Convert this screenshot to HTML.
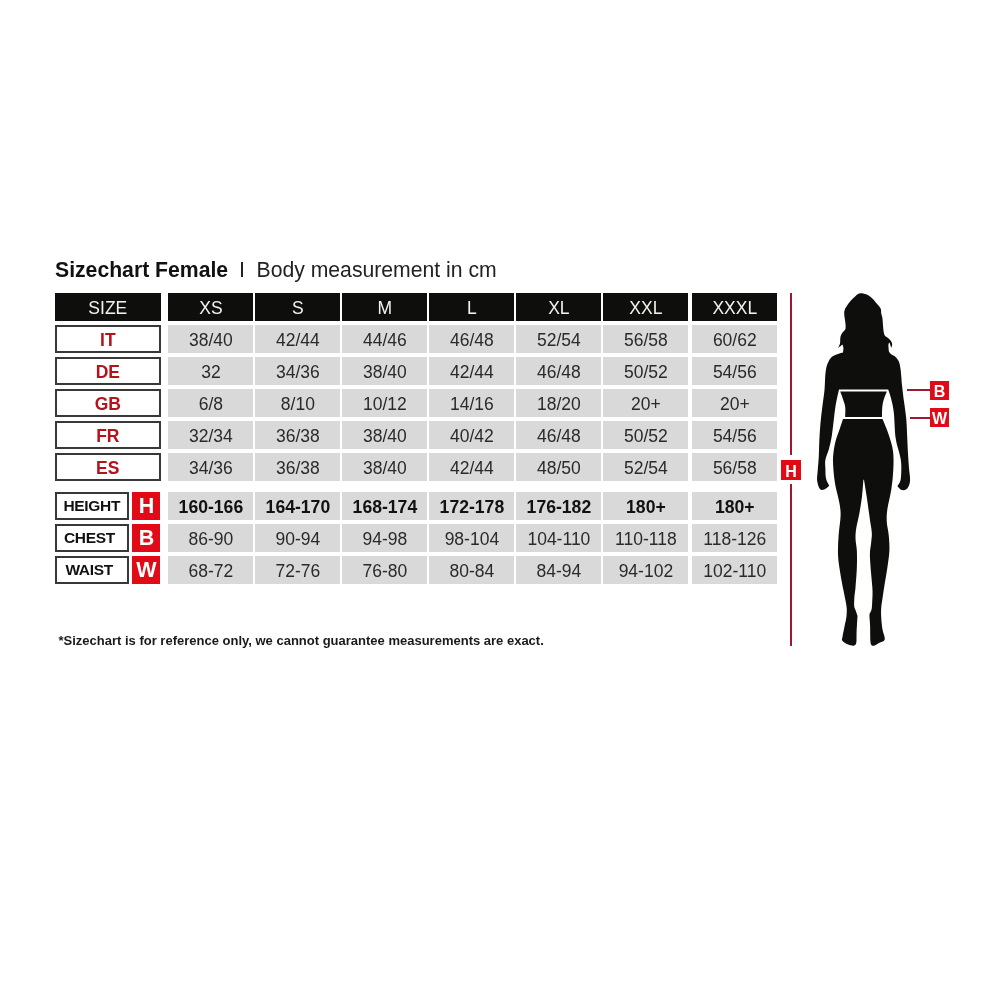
<!DOCTYPE html>
<html><head><meta charset="utf-8">
<style>
html,body{margin:0;padding:0;background:#fff;}
body{width:1000px;height:1000px;position:relative;overflow:hidden;font-family:"Liberation Sans",sans-serif;}
#w{position:absolute;left:0;top:0;width:1000px;height:1000px;will-change:transform;}
.a{position:absolute;box-sizing:border-box;}
.c{display:flex;align-items:center;justify-content:center;white-space:nowrap;}
.hd{background:#0e0e0c;color:#f2f2ee;font-size:17.5px;padding-top:2px;}
.g{background:#d9d9d9;color:#2a2a2a;font-size:17.5px;padding-top:3.5px;}
.lb{background:#fff;border:2px solid #383838;color:#b5121b;font-weight:bold;font-size:17.5px;padding-top:3px;}
.lb2{background:#fff;border:2px solid #383838;color:#111;font-weight:bold;font-size:15.5px;letter-spacing:-0.3px;justify-content:flex-start;}
.rb{background:#e10a16;color:#fff;font-weight:bold;}
.t{position:absolute;white-space:nowrap;line-height:1;}
</style></head><body><div id="w">

<div class="t" style="left:55px;top:259px;font-size:21.2px;font-weight:bold;color:#111;">Sizechart Female</div>
<div class="a" style="left:241px;top:262px;width:2px;height:15px;background:#222;"></div>
<div class="t" style="left:256.5px;top:259px;font-size:21.2px;color:#222;">Body measurement in cm</div>
<div class="a c hd" style="left:55px;top:293px;width:105.6px;height:28px;">SIZE</div>
<div class="a c hd" style="left:168.4px;top:293px;width:85px;height:28px;">XS</div>
<div class="a c hd" style="left:255.4px;top:293px;width:85px;height:28px;">S</div>
<div class="a c hd" style="left:342.4px;top:293px;width:85px;height:28px;">M</div>
<div class="a c hd" style="left:429.4px;top:293px;width:85px;height:28px;">L</div>
<div class="a c hd" style="left:516.4px;top:293px;width:85px;height:28px;">XL</div>
<div class="a c hd" style="left:603.4px;top:293px;width:85px;height:28px;">XXL</div>
<div class="a c hd" style="left:692.3px;top:293px;width:85px;height:28px;">XXXL</div>
<div class="a c lb" style="left:55px;top:324.5px;width:105.6px;height:28px;">IT</div>
<div class="a c g" style="left:168.4px;top:324.5px;width:85px;height:28px;">38/40</div>
<div class="a c g" style="left:255.4px;top:324.5px;width:85px;height:28px;">42/44</div>
<div class="a c g" style="left:342.4px;top:324.5px;width:85px;height:28px;">44/46</div>
<div class="a c g" style="left:429.4px;top:324.5px;width:85px;height:28px;">46/48</div>
<div class="a c g" style="left:516.4px;top:324.5px;width:85px;height:28px;">52/54</div>
<div class="a c g" style="left:603.4px;top:324.5px;width:85px;height:28px;">56/58</div>
<div class="a c g" style="left:692.3px;top:324.5px;width:85px;height:28px;">60/62</div>
<div class="a c lb" style="left:55px;top:356.5px;width:105.6px;height:28px;">DE</div>
<div class="a c g" style="left:168.4px;top:356.5px;width:85px;height:28px;">32</div>
<div class="a c g" style="left:255.4px;top:356.5px;width:85px;height:28px;">34/36</div>
<div class="a c g" style="left:342.4px;top:356.5px;width:85px;height:28px;">38/40</div>
<div class="a c g" style="left:429.4px;top:356.5px;width:85px;height:28px;">42/44</div>
<div class="a c g" style="left:516.4px;top:356.5px;width:85px;height:28px;">46/48</div>
<div class="a c g" style="left:603.4px;top:356.5px;width:85px;height:28px;">50/52</div>
<div class="a c g" style="left:692.3px;top:356.5px;width:85px;height:28px;">54/56</div>
<div class="a c lb" style="left:55px;top:388.5px;width:105.6px;height:28px;">GB</div>
<div class="a c g" style="left:168.4px;top:388.5px;width:85px;height:28px;">6/8</div>
<div class="a c g" style="left:255.4px;top:388.5px;width:85px;height:28px;">8/10</div>
<div class="a c g" style="left:342.4px;top:388.5px;width:85px;height:28px;">10/12</div>
<div class="a c g" style="left:429.4px;top:388.5px;width:85px;height:28px;">14/16</div>
<div class="a c g" style="left:516.4px;top:388.5px;width:85px;height:28px;">18/20</div>
<div class="a c g" style="left:603.4px;top:388.5px;width:85px;height:28px;">20+</div>
<div class="a c g" style="left:692.3px;top:388.5px;width:85px;height:28px;">20+</div>
<div class="a c lb" style="left:55px;top:420.5px;width:105.6px;height:28px;">FR</div>
<div class="a c g" style="left:168.4px;top:420.5px;width:85px;height:28px;">32/34</div>
<div class="a c g" style="left:255.4px;top:420.5px;width:85px;height:28px;">36/38</div>
<div class="a c g" style="left:342.4px;top:420.5px;width:85px;height:28px;">38/40</div>
<div class="a c g" style="left:429.4px;top:420.5px;width:85px;height:28px;">40/42</div>
<div class="a c g" style="left:516.4px;top:420.5px;width:85px;height:28px;">46/48</div>
<div class="a c g" style="left:603.4px;top:420.5px;width:85px;height:28px;">50/52</div>
<div class="a c g" style="left:692.3px;top:420.5px;width:85px;height:28px;">54/56</div>
<div class="a c lb" style="left:55px;top:452.5px;width:105.6px;height:28px;">ES</div>
<div class="a c g" style="left:168.4px;top:452.5px;width:85px;height:28px;">34/36</div>
<div class="a c g" style="left:255.4px;top:452.5px;width:85px;height:28px;">36/38</div>
<div class="a c g" style="left:342.4px;top:452.5px;width:85px;height:28px;">38/40</div>
<div class="a c g" style="left:429.4px;top:452.5px;width:85px;height:28px;">42/44</div>
<div class="a c g" style="left:516.4px;top:452.5px;width:85px;height:28px;">48/50</div>
<div class="a c g" style="left:603.4px;top:452.5px;width:85px;height:28px;">52/54</div>
<div class="a c g" style="left:692.3px;top:452.5px;width:85px;height:28px;">56/58</div>
<div class="a c lb2" style="left:55px;top:491.5px;width:73.7px;height:28px;padding-left:6.4px;">HEIGHT</div>
<div class="a c rb" style="left:132.4px;top:491.5px;width:28.1px;height:28px;font-size:21.5px;padding-top:1px;">H</div>
<div class="a c g" style="left:168.4px;top:491.5px;width:85px;height:28px;font-weight:bold;color:#111;font-size:17.6px;">160-166</div>
<div class="a c g" style="left:255.4px;top:491.5px;width:85px;height:28px;font-weight:bold;color:#111;font-size:17.6px;">164-170</div>
<div class="a c g" style="left:342.4px;top:491.5px;width:85px;height:28px;font-weight:bold;color:#111;font-size:17.6px;">168-174</div>
<div class="a c g" style="left:429.4px;top:491.5px;width:85px;height:28px;font-weight:bold;color:#111;font-size:17.6px;">172-178</div>
<div class="a c g" style="left:516.4px;top:491.5px;width:85px;height:28px;font-weight:bold;color:#111;font-size:17.6px;">176-182</div>
<div class="a c g" style="left:603.4px;top:491.5px;width:85px;height:28px;font-weight:bold;color:#111;font-size:17.6px;">180+</div>
<div class="a c g" style="left:692.3px;top:491.5px;width:85px;height:28px;font-weight:bold;color:#111;font-size:17.6px;">180+</div>
<div class="a c lb2" style="left:55px;top:523.5px;width:73.7px;height:28px;padding-left:6.9px;">CHEST</div>
<div class="a c rb" style="left:132.4px;top:523.5px;width:28.1px;height:28px;font-size:21.5px;padding-top:1px;">B</div>
<div class="a c g" style="left:168.4px;top:523.5px;width:85px;height:28px;">86-90</div>
<div class="a c g" style="left:255.4px;top:523.5px;width:85px;height:28px;">90-94</div>
<div class="a c g" style="left:342.4px;top:523.5px;width:85px;height:28px;">94-98</div>
<div class="a c g" style="left:429.4px;top:523.5px;width:85px;height:28px;">98-104</div>
<div class="a c g" style="left:516.4px;top:523.5px;width:85px;height:28px;">104-110</div>
<div class="a c g" style="left:603.4px;top:523.5px;width:85px;height:28px;">110-118</div>
<div class="a c g" style="left:692.3px;top:523.5px;width:85px;height:28px;">118-126</div>
<div class="a c lb2" style="left:55px;top:555.5px;width:73.7px;height:28px;padding-left:8.4px;">WAIST</div>
<div class="a c rb" style="left:132.4px;top:555.5px;width:28.1px;height:28px;font-size:21.5px;padding-top:1px;">W</div>
<div class="a c g" style="left:168.4px;top:555.5px;width:85px;height:28px;">68-72</div>
<div class="a c g" style="left:255.4px;top:555.5px;width:85px;height:28px;">72-76</div>
<div class="a c g" style="left:342.4px;top:555.5px;width:85px;height:28px;">76-80</div>
<div class="a c g" style="left:429.4px;top:555.5px;width:85px;height:28px;">80-84</div>
<div class="a c g" style="left:516.4px;top:555.5px;width:85px;height:28px;">84-94</div>
<div class="a c g" style="left:603.4px;top:555.5px;width:85px;height:28px;">94-102</div>
<div class="a c g" style="left:692.3px;top:555.5px;width:85px;height:28px;">102-110</div>
<div class="t" style="left:58.5px;top:634px;font-size:13px;font-weight:bold;color:#1a1a1a;">*Sizechart is for reference only, we cannot guarantee measurements are exact.</div>
<div class="a" style="left:790px;top:293px;width:2px;height:162px;background:#9a1b2f;"></div>
<div class="a" style="left:790px;top:484px;width:2px;height:162px;background:#9a1b2f;"></div>
<div class="a c rb" style="left:781px;top:460px;width:20px;height:20px;font-size:16px;padding-top:3px;">H</div>
<div class="a" style="left:907px;top:389px;width:23px;height:2px;background:#9a1b2f;"></div>
<div class="a c rb" style="left:930px;top:380.7px;width:19px;height:19px;font-size:16px;padding-top:3px;">B</div>
<div class="a" style="left:910px;top:417px;width:20px;height:2px;background:#9a1b2f;"></div>
<div class="a c rb" style="left:930px;top:408.3px;width:19px;height:19px;font-size:16px;padding-top:3px;">W</div>
<svg class="a" style="left:0;top:0" width="1000" height="1000" viewBox="0 0 1000 1000">
<path fill="#0e0e0c" d="M857.20,294.50 C857.73,294.28 858.90,293.23 860.40,293.20 C861.90,293.17 864.43,293.62 866.20,294.30 C867.97,294.98 869.40,295.95 871.00,297.30 C872.60,298.65 874.20,300.55 875.80,302.40 C877.40,304.25 879.70,306.60 880.60,308.40 C881.50,310.20 880.90,311.60 881.20,313.20 C881.50,314.80 882.10,316.00 882.40,318.00 C882.70,320.00 882.80,323.00 883.00,325.20 C883.20,327.40 883.30,329.50 883.60,331.20 C883.90,332.90 884.10,334.30 884.80,335.40 C885.50,336.50 886.80,336.90 887.80,337.80 C888.80,338.70 890.07,339.68 890.80,340.80 C891.53,341.92 892.15,343.30 892.20,344.50 C892.25,345.70 891.28,347.42 891.10,348.00 C890.95,347.43 890.50,345.50 890.20,344.60 C889.90,343.70 889.45,342.93 889.30,342.60 C889.15,343.00 888.47,343.50 888.40,345.00 C888.33,346.50 888.82,350.50 888.90,351.60 C889.27,352.05 889.98,353.40 891.10,354.30 C892.22,355.20 894.25,355.65 895.60,357.00 C896.95,358.35 898.37,360.30 899.20,362.40 C900.03,364.50 900.23,367.00 900.60,369.60 C900.97,372.20 901.17,375.43 901.40,378.00 C901.63,380.57 901.57,381.08 902.00,385.00 C902.43,388.92 903.30,396.00 904.00,401.50 C904.70,407.00 905.68,412.50 906.20,418.00 C906.72,423.50 906.83,429.00 907.10,434.50 C907.38,440.00 907.54,445.50 907.85,451.00 C908.16,456.50 908.58,462.55 908.95,467.50 C909.32,472.45 910.32,477.22 910.05,480.70 C909.77,484.18 908.67,486.85 907.30,488.40 C905.92,489.95 903.45,490.37 901.80,490.00 C900.15,489.63 898.13,486.83 897.40,486.20 C897.95,485.10 900.06,483.27 900.70,479.60 C901.34,475.93 901.43,468.42 901.25,464.20 C901.07,459.98 900.54,458.70 899.60,454.30 C898.66,449.90 896.57,444.77 895.60,437.80 C894.63,430.83 894.57,419.10 893.80,412.50 C893.03,405.90 891.93,402.05 891.00,398.20 C890.07,394.35 888.67,390.87 888.20,389.40 L839.00,389.40 C838.40,392.33 836.57,399.48 835.40,407.00 C834.23,414.52 833.07,427.53 832.00,434.50 C830.93,441.47 830.10,444.58 829.00,448.80 C827.90,453.02 826.00,456.50 825.40,459.80 C824.80,463.10 825.30,465.48 825.40,468.60 C825.50,471.72 825.36,475.65 826.00,478.50 C826.64,481.35 828.71,484.50 829.25,485.70 C828.42,486.33 825.86,488.95 824.30,489.50 C822.74,490.05 821.09,490.47 819.90,489.00 C818.71,487.53 817.52,483.73 817.15,480.70 C816.78,477.67 817.43,474.83 817.70,470.80 C817.98,466.77 818.52,461.63 818.80,456.50 C819.07,451.37 819.08,445.50 819.35,440.00 C819.62,434.50 819.96,429.00 820.45,423.50 C820.94,418.00 821.62,412.58 822.30,407.00 C822.97,401.42 824.02,395.03 824.50,390.00 C824.98,384.97 824.90,380.50 825.20,376.80 C825.50,373.10 825.82,370.20 826.30,367.80 C826.78,365.40 827.20,364.20 828.10,362.40 C829.00,360.60 830.05,358.42 831.70,357.00 C833.35,355.58 836.12,354.65 838.00,353.90 C839.88,353.15 842.17,352.73 843.00,352.50 C843.07,351.75 843.48,349.35 843.40,348.00 C843.32,346.65 842.65,345.00 842.50,344.40 L838.00,348.00 C838.33,347.25 839.60,345.30 840.00,343.50 C840.40,341.70 840.03,338.95 840.40,337.20 C840.77,335.45 841.35,334.40 842.20,333.00 C843.05,331.60 845.00,330.70 845.50,328.80 C846.00,326.90 845.40,323.90 845.20,321.60 C845.00,319.30 844.40,316.90 844.30,315.00 C844.20,313.10 844.05,311.90 844.60,310.20 C845.15,308.50 846.30,306.67 847.60,304.80 C848.90,302.93 850.80,300.72 852.40,299.00 C854.00,297.28 856.40,295.25 857.20,294.50 Z"/>
<path fill="#0e0e0c" d="M840.25,391.60 L886.80,391.60 C886.30,392.92 884.55,396.93 883.80,399.50 C883.05,402.07 882.60,404.10 882.30,407.00 C882.00,409.90 882.05,415.25 882.00,416.90 L845.20,416.90 C845.20,415.25 845.57,409.93 845.20,407.00 C844.83,404.07 843.83,401.87 843.00,399.30 C842.17,396.73 840.71,392.88 840.25,391.60 Z"/>
<path fill="#0e0e0c" d="M843.00,419.10 L882.55,419.10 C883.56,421.67 886.86,429.18 888.60,434.50 C890.34,439.82 892.22,445.08 893.00,451.00 C893.78,456.92 893.58,463.58 893.30,470.00 C893.02,476.42 892.28,483.00 891.30,489.50 C890.32,496.00 888.15,503.58 887.40,509.00 C886.65,514.42 886.58,517.67 886.80,522.00 C887.02,526.33 888.27,530.23 888.70,535.00 C889.13,539.77 889.62,545.18 889.40,550.60 C889.18,556.02 888.27,561.43 887.40,567.50 C886.53,573.57 885.03,581.75 884.20,587.00 C883.37,592.25 882.90,595.50 882.40,599.00 C881.90,602.50 881.40,605.00 881.20,608.00 C881.00,611.00 881.00,613.50 881.20,617.00 C881.40,620.50 881.85,625.70 882.40,629.00 C882.95,632.30 884.20,634.90 884.50,636.80 C884.80,638.70 885.05,639.40 884.20,640.40 C883.35,641.40 881.00,641.95 879.40,642.80 C877.80,643.65 875.90,645.10 874.60,645.50 C873.30,645.90 872.30,645.95 871.60,645.20 C870.90,644.45 870.65,644.20 870.40,641.00 C870.15,637.80 870.25,630.00 870.10,626.00 C869.95,622.00 869.60,619.00 869.50,617.00 C869.40,615.00 869.50,614.50 869.50,614.00 C869.85,613.20 871.15,611.20 871.60,609.20 C872.05,607.20 872.05,605.20 872.20,602.00 C872.35,598.80 872.67,594.67 872.50,590.00 C872.33,585.33 871.58,579.92 871.15,574.00 C870.72,568.08 869.90,559.70 869.90,554.50 C869.90,549.30 870.83,546.48 871.15,542.80 C871.47,539.12 872.01,536.30 871.80,532.40 C871.59,528.50 870.77,525.47 869.90,519.40 C869.03,513.33 867.58,502.61 866.60,496.00 C865.62,489.39 864.43,482.46 864.00,479.75 L863.40,479.75 C863.17,482.46 862.71,490.48 862.05,496.00 C861.39,501.52 860.43,507.48 859.45,512.90 C858.48,518.32 856.85,524.17 856.20,528.50 C855.55,532.83 855.44,535.22 855.55,538.90 C855.66,542.58 856.63,545.83 856.85,550.60 C857.07,555.37 857.07,561.43 856.85,567.50 C856.63,573.57 855.96,582.08 855.55,587.00 C855.14,591.92 854.62,593.80 854.40,597.00 C854.17,600.20 853.98,603.97 854.20,606.20 C854.42,608.43 855.15,608.80 855.70,610.40 C856.25,612.00 857.20,614.90 857.50,615.80 C857.35,618.50 856.80,627.50 856.60,632.00 C856.40,636.50 856.70,640.55 856.30,642.80 C855.90,645.05 855.15,645.10 854.20,645.50 C853.25,645.90 852.00,645.55 850.60,645.20 C849.20,644.85 847.20,644.20 845.80,643.40 C844.40,642.60 842.75,641.50 842.20,640.40 C841.65,639.30 842.10,639.20 842.50,636.80 C842.90,634.40 843.95,629.30 844.60,626.00 C845.25,622.70 846.05,620.00 846.40,617.00 C846.75,614.00 846.90,611.00 846.70,608.00 C846.50,605.00 845.75,602.00 845.20,599.00 C844.65,596.00 844.27,594.60 843.40,590.00 C842.53,585.40 840.90,577.32 840.00,571.40 C839.10,565.48 838.23,560.57 838.00,554.50 C837.77,548.43 838.22,541.50 838.65,535.00 C839.08,528.50 840.49,520.92 840.60,515.50 C840.71,510.08 840.17,507.48 839.30,502.50 C838.43,497.52 836.38,491.02 835.40,485.60 C834.42,480.18 833.83,474.85 833.45,470.00 C833.07,465.15 832.79,461.13 833.10,456.50 C833.41,451.87 834.20,446.78 835.30,442.20 C836.40,437.62 838.42,432.85 839.70,429.00 C840.98,425.15 842.45,420.75 843.00,419.10 Z"/>
</svg>
</div></body></html>
